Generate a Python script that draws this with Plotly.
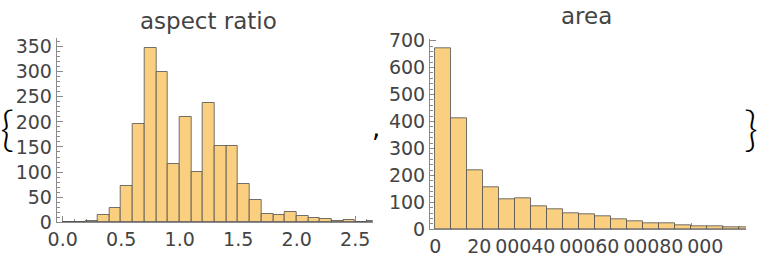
import plotly.graph_objects as go

# ---- data: aspect ratio histogram (bin left edges, width 0.1) ----
ar_bin_left = [0.0, 0.1, 0.2, 0.3, 0.4, 0.5, 0.6, 0.7, 0.8, 0.9, 1.0, 1.1, 1.2, 1.3,
               1.4, 1.5, 1.6, 1.7, 1.8, 1.9, 2.0, 2.1, 2.2, 2.3, 2.4, 2.5, 2.6]
ar_counts = [1, 1, 3, 14, 28, 73, 196, 347, 300, 117, 210, 101, 238, 151,
             151, 77, 44, 16, 14, 20, 12, 8, 6, 3, 4, 1, 2]
ar_bin_width = 0.1
ar_xticks = [0.0, 0.5, 1.0, 1.5, 2.0, 2.5]
ar_xticktext = ["0.0", "0.5", "1.0", "1.5", "2.0", "2.5"]

# ---- data: area histogram (bin left edges, width 5000) ----
area_bin_left = [0, 5000, 10000, 15000, 20000, 25000, 30000, 35000, 40000, 45000,
                 50000, 55000, 60000, 65000, 70000, 75000, 80000, 85000, 90000, 95000]
area_counts = [671, 412, 219, 156, 111, 115, 85, 74, 58, 55,
               47, 37, 30, 22, 22, 15, 11, 11, 7, 7]
area_bin_width = 5000
area_xticks = [0, 20000, 40000, 60000, 80000]
area_xticktext = ["0", "20\u2009000", "40\u2009000", "60\u2009000", "80\u2009000"]

titles = ["aspect ratio", "area"]

W, H = 758, 260
FILL = "rgb(250,207,127)"
EDGE = "rgba(80,80,80,0.8)"
AXC = "#8a8a8a"
TXT = "#444444"
FONT = "DejaVu Sans"

fig = go.Figure()
fig.add_trace(go.Bar(x=ar_bin_left, y=ar_counts, width=ar_bin_width, offset=0,
                     marker=dict(color=FILL, line=dict(color=EDGE, width=1)),
                     xaxis="x", yaxis="y", showlegend=False, hoverinfo="skip"))
fig.add_trace(go.Bar(x=area_bin_left, y=area_counts, width=area_bin_width, offset=0,
                     marker=dict(color=FILL, line=dict(color=EDGE, width=1)),
                     xaxis="x2", yaxis="y2", showlegend=False, hoverinfo="skip"))

def px_x(p):
    return p / W

def px_y(p):
    return 1 - p / H

tickfont = dict(family=FONT, size=19, color=TXT)
common = dict(showline=True, linecolor=AXC, linewidth=1, showgrid=False, zeroline=False,
              ticks="inside", tickcolor=AXC, ticklen=6, tickfont=tickfont,
              layer="below traces", fixedrange=True, automargin=False, tickangle=0)

fig.update_layout(
    width=W, height=H, margin=dict(l=0, r=0, t=0, b=0, autoexpand=False),
    paper_bgcolor="white", plot_bgcolor="white", bargap=0,
    xaxis=dict(domain=[px_x(56.7), px_x(372.7)], range=[-0.051, 2.65],
               tickvals=ar_xticks, ticktext=ar_xticktext, anchor="y",
               minor=dict(ticks="inside", dtick=0.1, ticklen=3, tickcolor=AXC), **common),
    yaxis=dict(domain=[px_y(222.3), px_y(38)], range=[0, 367], dtick=50, anchor="x",
               minor=dict(ticks="inside", dtick=10, ticklen=3, tickcolor=AXC), **common),
    xaxis2=dict(domain=[px_x(430), px_x(746)], range=[-1650, 97100],
                tickvals=area_xticks, ticktext=area_xticktext, anchor="y2",
                minor=dict(ticks="inside", dtick=5000, ticklen=3, tickcolor=AXC), **common),
    yaxis2=dict(domain=[px_y(229.3), px_y(39.3)], range=[0, 705], dtick=100, anchor="x2",
                minor=dict(ticks="inside", dtick=20, ticklen=3, tickcolor=AXC), **common),
)

BRACE_FONT = dict(family="Lato", size=48, color="black", weight=300)
anns = [
    dict(text=titles[0], x=px_x(208), y=px_y(21), font=dict(family=FONT, size=23, color=TXT)),
    dict(text=titles[1], x=px_x(586), y=px_y(16), font=dict(family=FONT, size=23, color=TXT)),
    dict(text="{", x=px_x(6.7), y=px_y(127), font=BRACE_FONT),
    dict(text="}", x=px_x(750.5), y=px_y(127), font=BRACE_FONT),
    dict(text=",", x=px_x(375.5), y=px_y(128), font=dict(family=FONT, size=26, color="black")),
]
for a in anns:
    fig.add_annotation(xref="paper", yref="paper", xanchor="center", yanchor="middle",
                       showarrow=False, **a)

fig.write_html("out.html")
